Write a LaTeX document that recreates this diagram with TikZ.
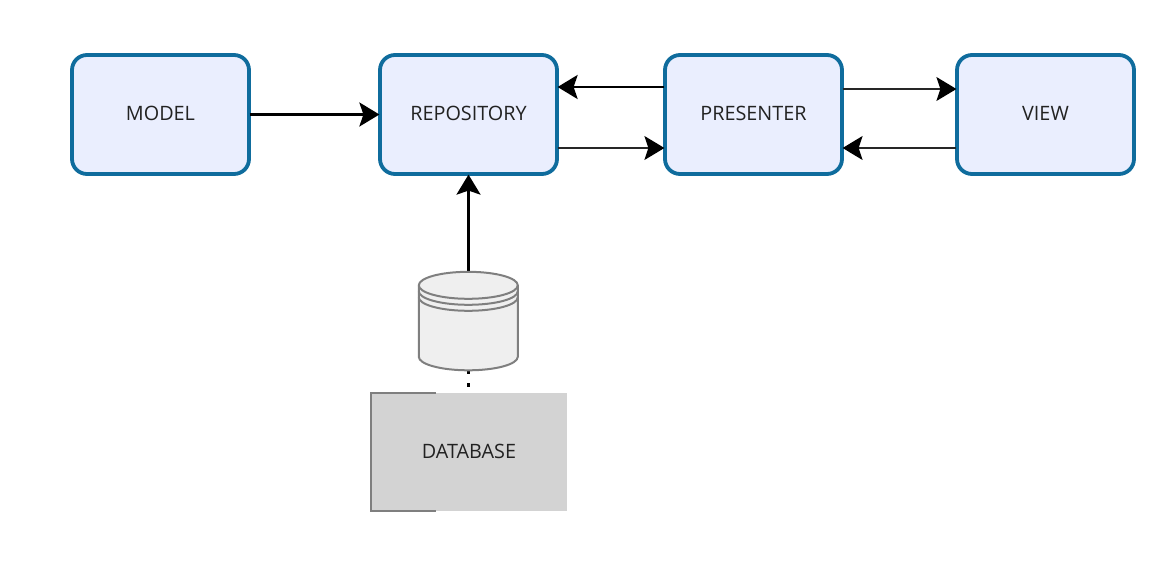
\documentclass[tikz,border=0pt]{standalone}
\usepackage{fontspec}
\setmainfont{Open Sans}
\usetikzlibrary{arrows.meta,calc}
\definecolor{boxblue}{HTML}{0F6C9D}
\definecolor{boxfill}{HTML}{EAEEFE}
\definecolor{cylgray}{HTML}{7F7F7F}
\definecolor{cylfill}{HTML}{EFEFEF}
\definecolor{dbfill}{HTML}{D3D3D3}
\definecolor{txt}{HTML}{222222}
\tikzset{
  x=1pt,y=-1pt,
  comp/.style={draw=boxblue,fill=boxfill,line width=3.8pt,rounded corners=15pt,outer sep=0.6pt,minimum width=177pt,minimum height=119pt,inner sep=0pt,text=txt,text depth=1.5pt,font=\fontsize{19.8}{22}\selectfont},
  heavy/.style={-{Stealth[length=20pt,width=24pt,inset=4pt]},line width=2.6pt,black},
  light/.style={line width=1.3pt,black!85,-{Stealth[length=20pt,width=24pt,inset=4pt,color=black]}},
  cyl/.style={draw=cylgray,line width=2pt},
}
\begin{document}
\begin{tikzpicture}
\useasboundingbox (0,0) rectangle (1173,565);
\node[comp] (model) at (160.5,114.5) {MODEL};
\node[comp] (repo) at (468.5,114.5) {REPOSITORY};
\node[comp] (pres) at (753.5,114.5) {PRESENTER};
\node[comp] (view) at (1045.5,114.5) {VIEW};
\node[minimum width=99pt,minimum height=98pt,inner sep=0pt] (cyl) at (468.5,321) {};
\node[fill=dbfill,minimum width=196pt,minimum height=118pt,inner sep=0pt] (dbl) at (469,452) {};
% connectors
\draw[heavy] (model.east) -- (repo.west);
\draw[heavy] (cyl.north) -- (repo.south);
\draw[heavy] ($(pres.west)+(0,-27.5)$) coordinate (pw) -- (pw -| repo.east);
\draw[light] ($(repo.east)+(0,33.5)$) coordinate (re) -- (re -| pres.west);
\draw[light] ($(pres.east)+(0,-25.5)$) coordinate (pe) -- (pe -| view.west);
\draw[light] ($(view.west)+(0,33.5)$) coordinate (vw) -- (vw -| pres.east);
\draw[line width=2.5pt,black,dash pattern=on 3.5pt off 9.5pt] (cyl.south) -- (cyl.south |- dbl.north);
% database label on top of the dotted link
\node[fill=dbfill,minimum width=196pt,minimum height=118pt,inner sep=0pt,text=txt,text depth=1.5pt,font=\fontsize{19.8}{22}\selectfont] at (dbl) {DATABASE};
\draw[draw=cylgray,line width=1.5pt] ($(dbl.north west)+(65,0)$) -- (dbl.north west) -- (dbl.south west) -- ($(dbl.south west)+(65,0)$);
% cylinder
\draw[cyl,fill=cylfill] (cyl.north west) ++(0,13.5)
  arc[start angle=180,end angle=0,x radius=49.5pt,y radius=13.5pt]
  -- ++(0,71.5)
  arc[start angle=0,end angle=-180,x radius=49.5pt,y radius=13.5pt]
  -- cycle;
\draw[cyl] (cyl.north west) ++(0,13.5) arc[start angle=180,end angle=360,x radius=49.5pt,y radius=13.5pt];
\draw[cyl] (cyl.north west) ++(0,19.5) arc[start angle=180,end angle=360,x radius=49.5pt,y radius=13.5pt];
\draw[cyl] (cyl.north west) ++(0,25.5) arc[start angle=180,end angle=360,x radius=49.5pt,y radius=13.5pt];
\end{tikzpicture}
\end{document}
